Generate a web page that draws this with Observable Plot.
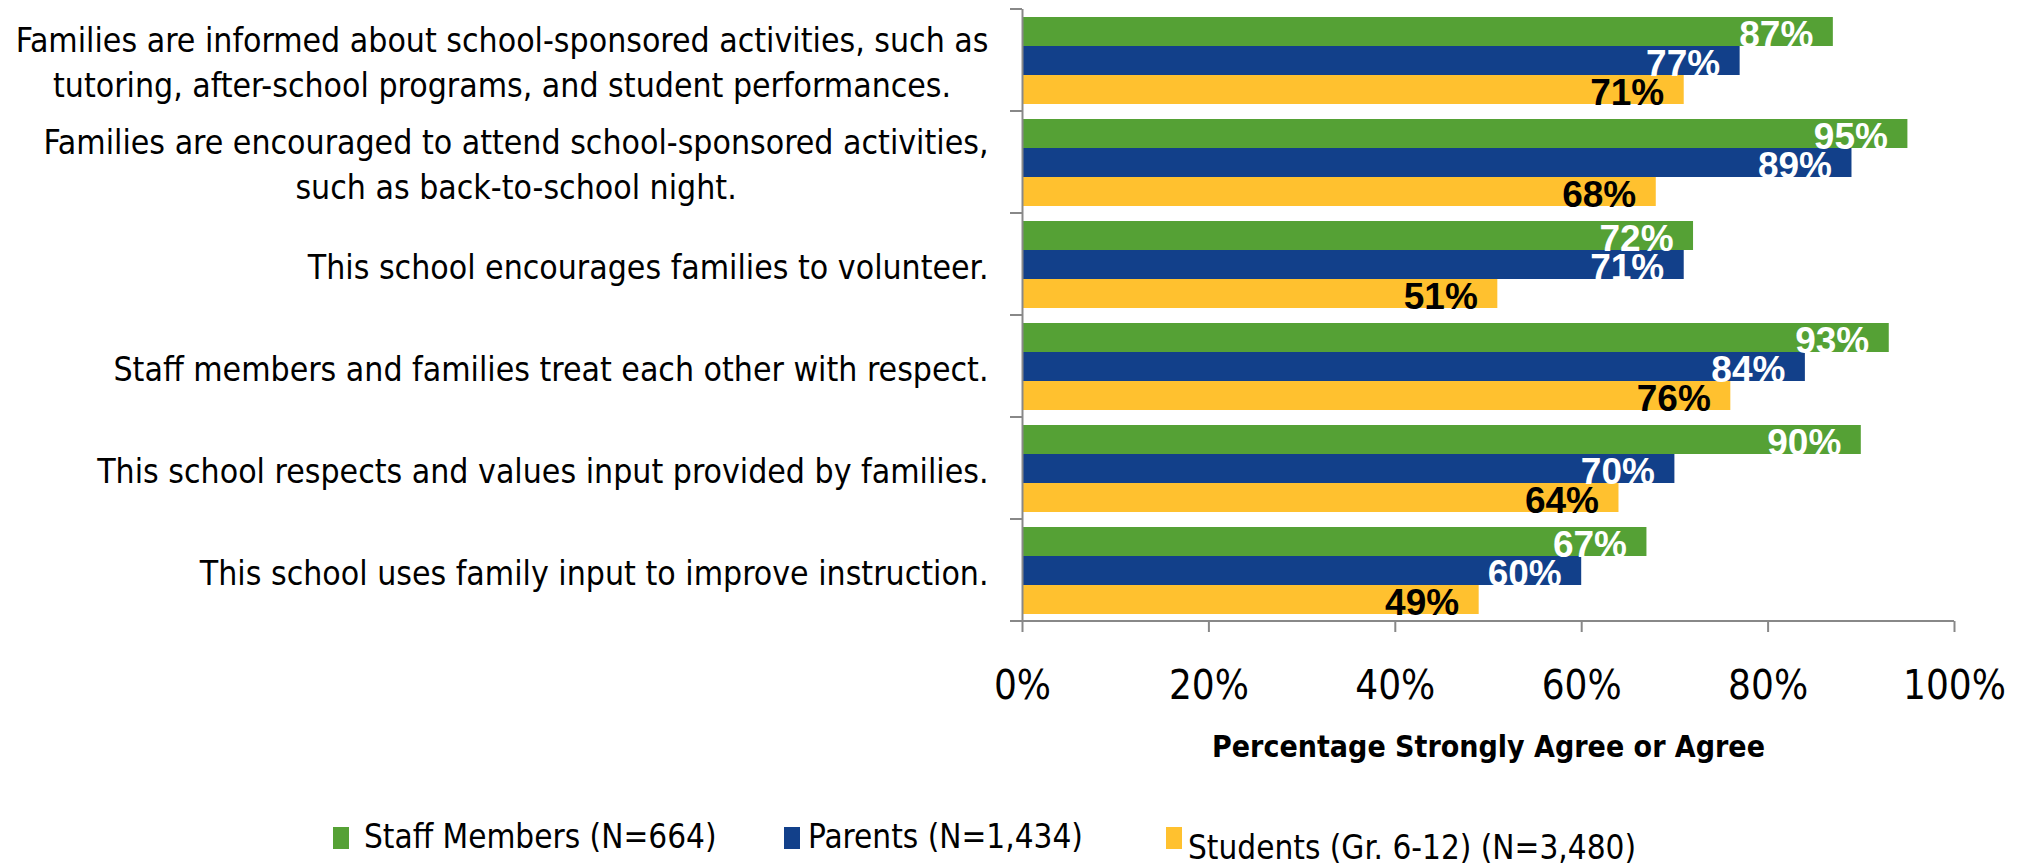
<!DOCTYPE html>
<html>
<head>
<meta charset="utf-8">
<script src="https://cdn.jsdelivr.net/npm/d3@7"></script>
<script src="https://cdn.jsdelivr.net/npm/@observablehq/plot@0.6"></script>
<style>
  html, body { margin: 0; padding: 0; background: #fff; }
  #wrap { position: relative; width: 2025px; height: 866px; overflow: hidden; }
  #legend { position: absolute; left: 0; top: 790px; width: 2025px; height: 76px;
    font-family: 'DejaVu Sans Condensed', 'DejaVu Sans', sans-serif; font-size: 33px; color: #000; }
  .sw { position: absolute; width: 16px; height: 22px; top: 37px; }
  .lt { position: absolute; line-height: 34px; white-space: nowrap; }
</style>
</head>
<body>
<div id="wrap">
  <div id="chart"></div>
  <div id="legend"></div>
</div>
<script>
// ---- data ----
const questions = [
  "Families are informed about school-sponsored activities, such as\ntutoring, after-school programs, and student performances.",
  "Families are encouraged to attend school-sponsored activities,\nsuch as back-to-school night.",
  "This school encourages families to volunteer.",
  "Staff members and families treat each other with respect.",
  "This school respects and values input provided by families.",
  "This school uses family input to improve instruction."
];
const series = ["Staff Members (N=664)", "Parents (N=1,434)", "Students (Gr. 6-12) (N=3,480)"];
const staff    = [87, 95, 72, 93, 90, 67];
const parents  = [77, 89, 71, 84, 70, 60];
const students = [71, 68, 51, 76, 64, 49];
const xTicks = [0, 20, 40, 60, 80, 100];
const colors = ["#55a135", "#12408a", "#ffc12f"];
const xLabel = "Percentage Strongly Agree or Agree";

// ---- build ----
const rows = questions.flatMap((q, i) => [
  {q, s: series[0], v: staff[i]},
  {q, s: series[1], v: parents[i]},
  {q, s: series[2], v: students[i]}
]);

const fontNarrow = "'DejaVu Sans Condensed', 'DejaVu Sans', sans-serif";
const fontBold = "'Liberation Sans', Arial, sans-serif";
const ctx = document.createElement("canvas").getContext("2d");
function measure(text, px) {
  ctx.font = `${px}px 'DejaVu Sans Condensed', 'DejaVu Sans', sans-serif`;
  return ctx.measureText(text).width;
}
const labelSize = 33.5;
const labelGap = 34;
const labelMarks = questions.map(q => {
  const w = Math.max(...q.split("\n").map(l => measure(l, labelSize)));
  return Plot.text([q], {
    fy: d => d, frameAnchor: "left", text: d => d,
    textAnchor: "middle", lineAnchor: "middle", lineHeight: 1.34,
    dx: -(labelGap + w / 2), fontSize: labelSize, fill: "black", fontFamily: fontNarrow
  });
});

const W = 2025, H = 790;
const plot = Plot.plot({
  width: W, height: H,
  marginLeft: 1022, marginRight: 71, marginTop: 7, marginBottom: H - 623,
  style: {fontFamily: fontNarrow, background: "white", overflow: "visible", color: "black"},
  x: {domain: [0, 100]},
  fy: {domain: questions, padding: 0, axis: null},
  y: {domain: series, paddingInner: 0, paddingOuter: 0.245, axis: null},
  color: {domain: series, range: colors},
  marks: [
    Plot.barX(rows, {fy: "q", y: "s", x: "v", fill: "s"}),
    Plot.ruleX([0], {stroke: "#888888", strokeWidth: 2}),
    Plot.text(rows.filter(d => d.s !== series[2]), {
      fy: "q", y: "s", x: "v", text: d => `${d.v}%`, textAnchor: "end", dx: -20, dy: 3,
      fill: "white", fontSize: 37, fontWeight: "bold", fontFamily: fontBold
    }),
    Plot.text(rows.filter(d => d.s === series[2]), {
      fy: "q", y: "s", x: "v", text: d => `${d.v}%`, textAnchor: "end", dx: -20, dy: 3,
      fill: "black", fontSize: 37, fontWeight: "bold", fontFamily: fontBold
    }),
    ...labelMarks,
    Plot.axisX({
      ticks: xTicks, tickFormat: d => `${d}%`, tickSize: 11, tickPadding: 38,
      fontSize: 40, stroke: "#888888", strokeWidth: 2, fill: "black",
      label: xLabel, labelAnchor: "center", labelArrow: "none", labelOffset: 135
    })
  ]
});
document.getElementById("chart").appendChild(plot);

// axis lines and group ticks drawn from Plot's own scales
const svg = d3.select(plot);
const fy = plot.scale("fy");
const xs = plot.scale("x");
const x0 = xs.apply(0), x1 = xs.apply(100);
const g = svg.append("g").attr("stroke", "#888888").attr("stroke-width", 2);
questions.forEach(q => {
  const y = fy.apply(q);
  g.append("line").attr("x1", x0 - 12).attr("x2", x0).attr("y1", y).attr("y2", y);
});
const yb = fy.apply(questions[questions.length - 1]) + fy.bandwidth;
g.append("line").attr("x1", x0 - 12).attr("x2", x1).attr("y1", yb).attr("y2", yb);

svg.selectAll('[aria-label="x-axis label"]').attr("font-weight", "bold").attr("font-size", 30)
  .selectAll("text").attr("font-weight", "bold").attr("font-size", 30);

// legend
const legendPos = [{sw: 333, tx: 364, top: 30}, {sw: 784, tx: 808, top: 30}, {sw: 1166, tx: 1188, top: 41}];
const leg = d3.select("#legend");
series.forEach((s, i) => {
  leg.append("div").attr("class", "sw").style("left", legendPos[i].sw + "px").style("background", colors[i]);
  leg.append("div").attr("class", "lt").style("left", legendPos[i].tx + "px")
    .style("top", legendPos[i].top + "px").text(s);
});
</script>
</body>
</html>
